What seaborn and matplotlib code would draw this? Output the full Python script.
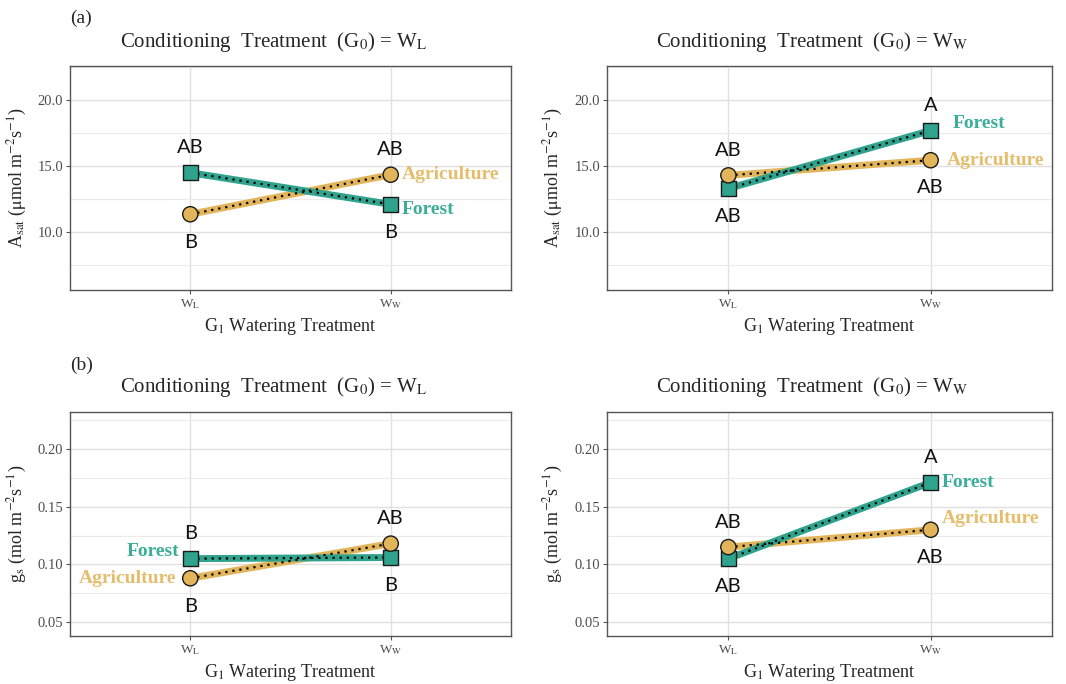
import matplotlib
matplotlib.use("Agg")
import matplotlib.pyplot as plt
import seaborn as sns
import pandas as pd
import numpy as np

# ---------------- data ----------------
g1_levels = ["WL", "WW"]
g1_ticklabels = [r"W$_\mathrm{L}$", r"W$_\mathrm{W}$"]
sites = ["Forest", "Agriculture"]

# Asat (umol m-2 s-1)
asat_g0WL_forest = [14.5, 12.1]
asat_g0WL_agri = [11.35, 14.35]
asat_g0WW_forest = [13.3, 17.7]
asat_g0WW_agri = [14.3, 15.45]

# gs (mol m-2 s-1)
gs_g0WL_forest = [0.105, 0.106]
gs_g0WL_agri = [0.088, 0.118]
gs_g0WW_forest = [0.105, 0.171]
gs_g0WW_agri = [0.115, 0.130]

# significance letters (WL, WW)
letters_asat_g0WL_forest = ["AB", "B"]
letters_asat_g0WL_agri = ["B", "AB"]
letters_asat_g0WW_forest = ["AB", "A"]
letters_asat_g0WW_agri = ["AB", "AB"]
letters_gs_g0WL_forest = ["B", "B"]
letters_gs_g0WL_agri = ["B", "AB"]
letters_gs_g0WW_forest = ["AB", "A"]
letters_gs_g0WW_agri = ["AB", "AB"]

titles = [r"Conditioning  Treatment  (G$_0$) = W$_\mathrm{L}$",
          r"Conditioning  Treatment  (G$_0$) = W$_\mathrm{W}$"]
ylabels = [r"A$_\mathrm{sat}$ ($\mathrm{\mu}$mol m$^{\mathrm{-2}}$s$^{\mathrm{-1}}$)",
           r"g$_\mathrm{s}$ (mol m$^{\mathrm{-2}}$s$^{\mathrm{-1}}$)"]
xlabel = r"G$_1$ Watering Treatment"

# ---------------- style ----------------
sns.set_theme(style="white")
plt.rcParams["font.family"] = ["Liberation Serif", "DejaVu Serif"]
plt.rcParams["mathtext.fontset"] = "stix"

TEAL = "#2FA38D"
GOLD = "#E3B55A"
TEAL_TXT = "#3AAE9A"
GOLD_TXT = "#E4BE6C"
colors = {"Forest": TEAL, "Agriculture": GOLD}
markers = {"Forest": "s", "Agriculture": "o"}

W, H = 1066, 684
fig = plt.figure(figsize=(W / 100, H / 100), dpi=100)

def fx(px):
    return px / W

def fy(px):
    return 1 - px / H

def make_ax(x0, x1, ytop, ybot):
    return fig.add_axes([fx(x0), fy(ybot), fx(x1) - fx(x0), fy(ytop) - fy(ybot)])

axes = {
    ("asat", 0): make_ax(70, 511, 66, 290),
    ("asat", 1): make_ax(607, 1052, 66, 290),
    ("gs", 0): make_ax(70, 511, 412, 636),
    ("gs", 1): make_ax(607, 1052, 412, 636),
}

panels = {
    ("asat", 0): (asat_g0WL_forest, asat_g0WL_agri, letters_asat_g0WL_forest, letters_asat_g0WL_agri),
    ("asat", 1): (asat_g0WW_forest, asat_g0WW_agri, letters_asat_g0WW_forest, letters_asat_g0WW_agri),
    ("gs", 0): (gs_g0WL_forest, gs_g0WL_agri, letters_gs_g0WL_forest, letters_gs_g0WL_agri),
    ("gs", 1): (gs_g0WW_forest, gs_g0WW_agri, letters_gs_g0WW_forest, letters_gs_g0WW_agri),
}

# letter placement: above or below marker, per panel/site/level
letter_side = {
    ("asat", 0): {"Forest": ["above", "below"], "Agriculture": ["below", "above"]},
    ("asat", 1): {"Forest": ["below", "above"], "Agriculture": ["above", "below"]},
    ("gs", 0): {"Forest": ["above", "below"], "Agriculture": ["below", "above"]},
    ("gs", 1): {"Forest": ["below", "above"], "Agriculture": ["above", "below"]},
}

# series label placement: (x level index, ha, dx points, dy points)
series_label = {
    ("asat", 0): {"Forest": (1, "left", 8, -4), "Agriculture": (1, "left", 8, 0)},
    ("asat", 1): {"Forest": (1, "left", 16, 5), "Agriculture": (1, "left", 12, 0)},
    ("gs", 0): {"Forest": (0, "right", -8, 5), "Agriculture": (0, "right", -10, 0)},
    ("gs", 1): {"Forest": (1, "left", 8, 0), "Agriculture": (1, "left", 8, 8)},
}

for (resp, g0), ax in axes.items():
    f_vals, a_vals, f_let, a_let = panels[(resp, g0)]
    df = pd.DataFrame({
        "G1": g1_levels * 2,
        "site": ["Forest"] * 2 + ["Agriculture"] * 2,
        "value": list(f_vals) + list(a_vals),
    })
    df["x"] = df["G1"].map({k: i for i, k in enumerate(g1_levels)})

    # thick coloured lines with dotted black overlay
    for site in ["Agriculture", "Forest"]:
        sub = df[df.site == site]
        sns.lineplot(data=sub, x="x", y="value", ax=ax, color=colors[site],
                     linewidth=5, legend=False, zorder=3, solid_capstyle="butt")
        sns.lineplot(data=sub, x="x", y="value", ax=ax, color="black",
                     linewidth=1.6, linestyle=(0, (1, 2.2)), legend=False, zorder=4)
    sns.scatterplot(data=df, x="x", y="value", hue="site", style="site",
                    palette=colors, markers=markers, s=120, edgecolor="#1a1a1a",
                    linewidth=1.0, ax=ax, legend=False, zorder=5)

    # letters + series labels
    for site, vals, lets in [("Forest", f_vals, f_let), ("Agriculture", a_vals, a_let)]:
        for i, (v, l) in enumerate(zip(vals, lets)):
            side = letter_side[(resp, g0)][site][i]
            dy = 18 if side == "above" else -20
            ax.annotate(l, (i, v), xytext=(0, dy), textcoords="offset points",
                        ha="center", va="center", fontsize=14.5, family="Lato",
                        color="#111111", zorder=6)
        xi, ha, dx, dy = series_label[(resp, g0)][site]
        ax.annotate(site, (xi, vals[xi]), xytext=(dx, dy), textcoords="offset points",
                    ha=ha, va="center", fontsize=14, fontweight="bold",
                    color=TEAL_TXT if site == "Forest" else GOLD_TXT, zorder=6,
                    annotation_clip=False)

    # axes formatting
    ax.set_xlim(-0.6, 1.6)
    ax.set_xticks(range(len(g1_levels)))
    ax.set_xticklabels(g1_ticklabels, fontsize=9.5, color="#4D4D4D")
    if resp == "asat":
        ax.set_ylim(5.6, 22.6)
        ax.set_yticks([10, 15, 20])
        ax.set_yticklabels(["10.0", "15.0", "20.0"])
        ax.set_yticks([7.5, 12.5, 17.5, 22.5], minor=True)
        ax.set_ylabel(ylabels[0], fontsize=13)
    else:
        ax.set_ylim(0.038, 0.232)
        ax.set_yticks([0.05, 0.10, 0.15, 0.20])
        ax.set_yticklabels(["0.05", "0.10", "0.15", "0.20"])
        ax.set_yticks([0.075, 0.125, 0.175, 0.225], minor=True)
        ax.set_ylabel(ylabels[1], fontsize=13)
    ax.yaxis.set_label_coords(-0.094, 0.5)
    ax.set_xlabel(xlabel, fontsize=13, labelpad=4)
    ax.tick_params(axis="y", which="major", labelsize=10.5, labelcolor="#4D4D4D",
                   length=3, width=0.8, color="#555555", left=True, pad=2)
    ax.tick_params(axis="y", which="minor", length=0, left=False)
    ax.tick_params(axis="x", length=3, width=0.8, color="#555555", bottom=True, pad=2)
    ax.grid(True, which="major", color="#E0E0E0", linewidth=1.0, zorder=0)
    ax.grid(True, which="minor", axis="y", color="#EBEBEB", linewidth=0.8, zorder=0)
    ax.set_axisbelow(True)
    for sp in ax.spines.values():
        sp.set_color("#555555")
        sp.set_linewidth(1.0)

# titles
for (px, py) in [(274, 42), (812, 42), (274, 387), (812, 387)]:
    idx = 0 if px < 500 else 1
    fig.text(fx(px), fy(py), titles[idx], ha="center", va="center", fontsize=15)

fig.text(fx(70), fy(18), "(a)", ha="left", va="center", fontsize=14)
fig.text(fx(70), fy(365), "(b)", ha="left", va="center", fontsize=14)

fig.savefig("out.png", dpi=100)
